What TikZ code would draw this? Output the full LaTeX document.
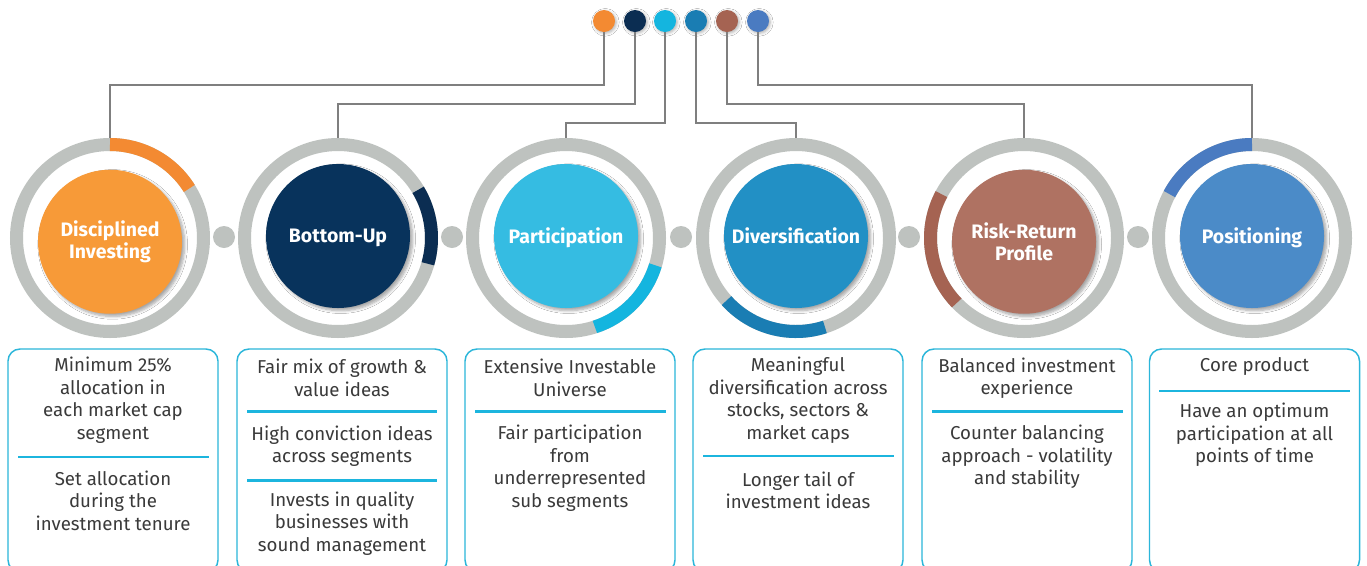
\documentclass[tikz,border=0pt]{standalone}
\usepackage{fontspec}
\setmainfont{Fira Sans}
\usetikzlibrary{shadows.blur}
\definecolor{ringgray}{HTML}{BEC2BF}
\definecolor{conngray}{HTML}{7F7F7F}
\definecolor{cardblue}{HTML}{2BB6DA}
\definecolor{sepblue}{HTML}{1CB5DE}
\definecolor{textgray}{HTML}{3A3A3A}
\definecolor{aorange}{HTML}{F38A32}\definecolor{corange}{HTML}{F79A38}
\definecolor{anavy}{HTML}{0B2D52}\definecolor{cnavy}{HTML}{08335C}
\definecolor{acyan}{HTML}{14B5DF}\definecolor{ccyan}{HTML}{35BCE2}
\definecolor{ablue}{HTML}{1A7DB3}\definecolor{cblue}{HTML}{2290C5}
\definecolor{abrown}{HTML}{A56352}\definecolor{cbrown}{HTML}{AF7262}
\definecolor{asky}{HTML}{4A7BC1}\definecolor{csky}{HTML}{4B8BC8}
\begin{document}
\begin{tikzpicture}[x=0.75pt,y=-0.75pt,
  ring/.style={line width=9.75pt, draw=ringgray},
  arcseg/.style={line width=9.75pt},
  core/.style={circle, minimum size=108pt, inner sep=0pt, text=white,
    font=\bfseries\fontsize{14.6}{17}\selectfont, align=center,
    blur shadow={shadow xshift=2pt, shadow yshift=-2pt, shadow blur steps=6, shadow opacity=35}},
  oneline/.style={text depth=0pt, yshift=1.5pt},
  twoline/.style={yshift=-2.8pt},
  topdot/.style={circle, minimum size=16.5pt, inner sep=0pt,
    blur shadow={shadow xshift=1pt, shadow yshift=-1pt, shadow blur steps=4, shadow opacity=30}},
  gdot/.style={circle, fill=ringgray, minimum size=16.5pt, inner sep=0pt},
  conn/.style={draw=conngray, line width=1.5pt},
  card/.style={draw=cardblue, line width=1.1pt, rounded corners=9pt,
    minimum width=157.5pt, minimum height=167.25pt, inner sep=0pt},
  sep/.style={draw=sepblue, line width=2pt},
  txt/.style={text=textgray, align=center, font=\fontsize{14}{16.9}\selectfont, inner sep=0pt}
]
\useasboundingbox (0,0) rectangle (1367,565);
\clip (0,0) rectangle (1367,565);
\fill[white] (0,0) rectangle (1367,565);

% ring tops
\coordinate (rt1) at (110,138);
\coordinate (rt2) at (338,138);
\coordinate (rt3) at (566,138);
\coordinate (rt4) at (796,138);
\coordinate (rt5) at (1024,138);
\coordinate (rt6) at (1252,138);

% top dots
\node[topdot, fill=aorange] (d1) at (604,21) {};
\node[topdot, fill=anavy]   (d2) at (635,21) {};
\node[topdot, fill=acyan]   (d3) at (665,21) {};
\node[topdot, fill=ablue]   (d4) at (696,21) {};
\node[topdot, fill=abrown]  (d5) at (727,21) {};
\node[topdot, fill=asky]    (d6) at (758,21) {};

% connectors
\draw[conn] (d1.south) -- ++(0,53) -| (rt1);
\draw[conn] (d2.south) -- ++(0,72) -| (rt2);
\draw[conn] (d3.south) -- ++(0,91) -| (rt3);
\draw[conn] (d4.south) -- ++(0,91) -| (rt4);
\draw[conn] (d5.south) -- ++(0,72) -| (rt5);
\draw[conn] (d6.south) -- ++(0,53) -| (rt6);

% rings
\foreach \cx in {110,338,566,796,1024,1252}{
  \draw[ring] (\cx,238) circle[radius=93.5];
}
% coloured arc segments
\draw[arcseg, draw=aorange] (110,238) ++(-32:93.5) arc[start angle=-32, end angle=-90, radius=93.5];
\draw[arcseg, draw=anavy]   (338,238) ++(16:93.5) arc[start angle=16, end angle=-31, radius=93.5];
\draw[arcseg, draw=acyan]   (566,238) ++(72:93.5) arc[start angle=72, end angle=17, radius=93.5];
\draw[arcseg, draw=ablue]   (796,238) ++(-222:93.5) arc[start angle=-222, end angle=-288, radius=93.5];
\draw[arcseg, draw=abrown]  (1024,238) ++(-152:93.5) arc[start angle=-152, end angle=-224, radius=93.5];
\draw[arcseg, draw=asky]    (1252,238) ++(-90:93.5) arc[start angle=-90, end angle=-152, radius=93.5];

% small gray dots
\node[gdot] (g1) at (224,237) {};
\node[gdot] (g2) at (452,237) {};
\node[gdot] (g3) at (681,237) {};
\node[gdot] (g4) at (909,237) {};
\node[gdot] (g5) at (1138,237) {};

% core circles
\node[core, twoline, fill=corange] (c1) at (110,238) {Disciplined\\Investing};
\node[core, oneline, fill=cnavy]   (c2) at (338,238) {Bottom-Up};
\node[core, oneline, fill=ccyan]   (c3) at (566,238) {Participation};
\node[core, oneline, fill=cblue]   (c4) at (796,238) {Diversification};
\node[core, twoline, fill=cbrown]  (c5) at (1024,238) {Risk-Return\\Profile};
\node[core, oneline, fill=csky]    (c6) at (1252,238) {Positioning};

% cards
\node[card] (b1) at (113,460.5) {};
\node[card] (b2) at (342,460.5) {};
\node[card] (b3) at (570,460.5) {};
\node[card] (b4) at (798,460.5) {};
\node[card] (b5) at (1027,460.5) {};
\node[card] (b6) at (1254.5,460.5) {};

% separators
\draw[sep] (18,457) -- (209,457);
\draw[sep] (247,411.5) -- (437,411.5);
\draw[sep] (247,480.5) -- (437,480.5);
\draw[sep] (475,411.5) -- (666,411.5);
\draw[sep] (703,456) -- (894,456);
\draw[sep] (932,411.5) -- (1123,411.5);
\draw[sep] (1159,391) -- (1350,391);

% texts
\node[txt] (t1a) at (113,400.3) {Minimum 25\%\\allocation in\\each market cap\\segment};
\node[txt] (t1b) at (113,500.7) {Set allocation\\during the\\investment tenure};
\node[txt] (t2a) at (342,378) {Fair mix of growth \&\\value ideas};
\node[txt] (t2b) at (342,446) {High conviction ideas\\across segments};
\node[txt] (t2c) at (342,523.5) {Invests in quality\\businesses with\\sound management};
\node[txt] (t3a) at (570,378) {Extensive Investable\\Universe};
\node[txt] (t3b) at (570,468) {Fair participation\\from\\underrepresented\\sub segments};
\node[txt] (t4a) at (798,400.4) {Meaningful\\diversification across\\stocks, sectors \&\\market caps};
\node[txt] (t4b) at (798,490.5) {Longer tail of\\investment ideas};
\node[txt] (t5a) at (1027,378) {Balanced investment\\experience};
\node[txt] (t5b) at (1027,457) {Counter balancing\\approach - volatility\\and stability};
\node[txt] (t6a) at (1254.5,366.7) {Core product};
\node[txt] (t6b) at (1254.5,434.8) {Have an optimum\\participation at all\\points of time};
\end{tikzpicture}
\end{document}
